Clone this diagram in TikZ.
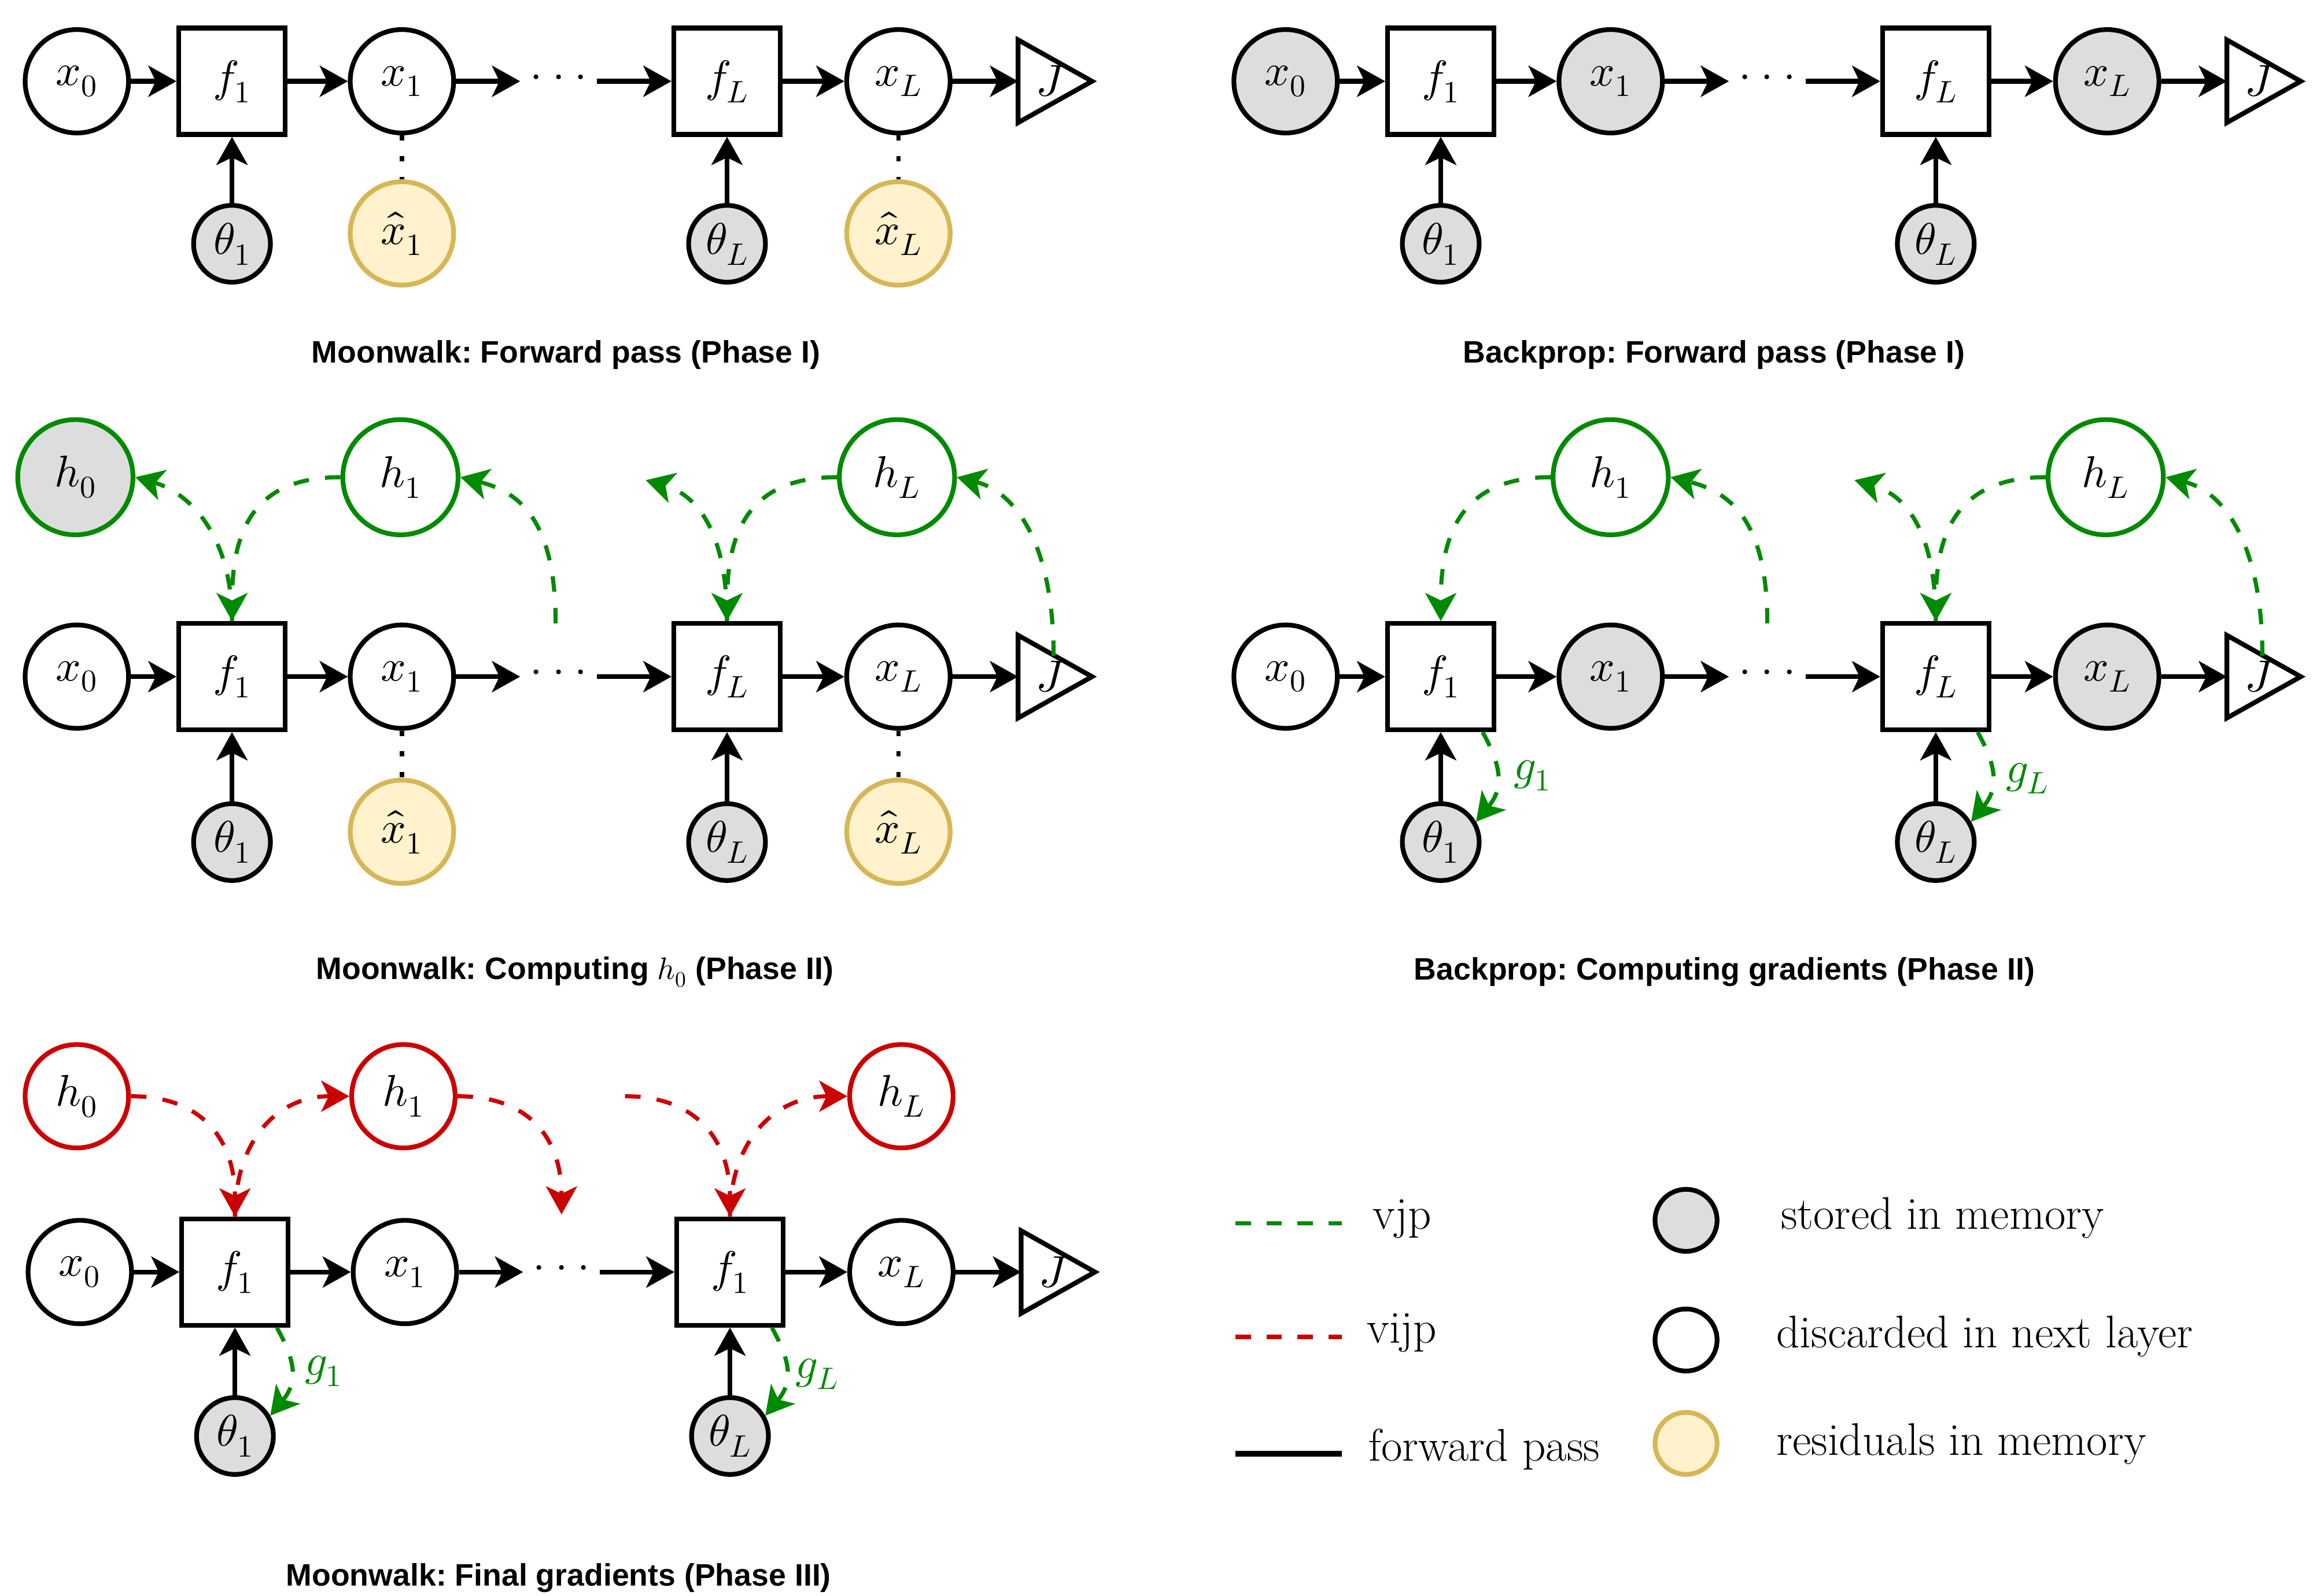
\documentclass[tikz,border=0pt]{standalone}
\usepackage{fontspec}
\usepackage{unicode-math}
\newfontfamily\capfont{Liberation Sans}
\usetikzlibrary{arrows.meta}
\definecolor{vgreen}{HTML}{008A00}
\definecolor{vred}{HTML}{CC0000}
\definecolor{memgray}{HTML}{DDDDDD}
\definecolor{resfill}{HTML}{FFF2CC}
\definecolor{resdraw}{HTML}{D6B656}
\frenchspacing
\newcommand\mfont{\fontsize{30}{35}\selectfont}
\newcommand\lfont{\fontsize{31}{36}\selectfont}
\newcommand\cfont{\capfont\bfseries\fontsize{21}{25}\selectfont}
\newcommand\mydots{$\cdotp\cdotp\cdotp$}
\tikzset{
  cn/.style={circle, draw, line width=3.2pt, minimum size=70pt, inner sep=0pt, font=\mfont, fill=white},
  memfill/.style={fill=memgray},
  resnode/.style={draw=resdraw, fill=resfill},
  thnode/.style={cn, minimum size=52pt, fill=memgray},
  hgnode/.style={cn, draw=vgreen, minimum size=78pt},
  hrnode/.style={cn, draw=vred},
  bx/.style={rectangle, draw, line width=3.2pt, minimum size=72pt, inner sep=0pt, font=\mfont, fill=white},
  jtri/.style={draw, line width=3.2pt, fill=white, line join=miter},
  arrtip/.style={-{Stealth[length=19pt,width=21pt,inset=5pt]}},
  fw/.style={line width=3.2pt, arrtip},
  vjp/.style={draw=vgreen, line width=2.8pt, dash pattern=on 10.5pt off 11pt, arrtip},
  vijp/.style={draw=vred, line width=2.8pt, dash pattern=on 10.5pt off 11pt, arrtip},
  dotl/.style={line width=3pt, dash pattern=on 3.5pt off 10.5pt},
  captxt/.style={font=\cfont, inner sep=0pt},
  legtxt/.style={font=\lfont, inner sep=0pt},
  mtxt/.style={font=\mfont, inner sep=0pt},
  glab/.style={font=\mfont, text=vgreen, inner sep=0pt},
}
\newcommand\jshape[1]{%
  \coordinate (#1-Jb) at (689,55);
  \draw[jtri] (#1-Jb) ++(0,-28) -- ++(50,28) -- ++(-50,28) -- cycle;
  \node[mtxt] (#1-J) at (711,55) {$J$};
  \coordinate (#1-Jt) at (713,41);
}
\begin{document}
\begin{tikzpicture}[x=1pt,y=-1pt]
\useasboundingbox (0,0) rectangle (1568,1080);

% ---------- Panel A: Moonwalk forward ----------
\begin{scope}
\node[cn] (A-x0) at (52,55) {$x_0$};
\node[bx] (A-f1) at (157,55) {$f_1$};
\node[cn] (A-x1) at (272,55) {$x_1$};
\node[mtxt] (A-dots) at (378,55) {\mydots};
\coordinate (A-d1) at (352,55);
\coordinate (A-d2) at (404,55);
\node[bx] (A-fL) at (492,55) {$f_L$};
\node[cn] (A-xL) at (608,55) {$x_L$};
\jshape{A}
\node[thnode] (A-t1) at (157,165) {$\theta_1$};
\node[thnode] (A-tL) at (492,165) {$\theta_L$};
\node[cn,resnode] (A-r1) at (272,158) {$\hat{x}_1$};
\node[cn,resnode] (A-rL) at (608,158) {$\hat{x}_L$};
\draw[fw] (A-x0) -- (A-f1);
\draw[fw] (A-f1) -- (A-x1);
\draw[fw] (A-x1) -- (A-d1);
\draw[fw] (A-d2) -- (A-fL);
\draw[fw] (A-fL) -- (A-xL);
\draw[fw] (A-xL) -- (A-Jb);
\draw[fw] (A-t1) -- (A-f1);
\draw[fw] (A-tL) -- (A-fL);
\draw[dotl] (A-x1) -- (A-r1);
\draw[dotl] (A-xL) -- (A-rL);
\node[captxt] (A-cap) at (383,240) {Moonwalk: Forward pass (Phase I)};
\end{scope}

% ---------- Panel B: Backprop forward ----------
\begin{scope}[shift={(818,0)}]
\node[cn,memfill] (B-x0) at (52,55) {$x_0$};
\node[bx] (B-f1) at (157,55) {$f_1$};
\node[cn,memfill] (B-x1) at (272,55) {$x_1$};
\node[mtxt] (B-dots) at (378,55) {\mydots};
\coordinate (B-d1) at (352,55);
\coordinate (B-d2) at (404,55);
\node[bx] (B-fL) at (492,55) {$f_L$};
\node[cn,memfill] (B-xL) at (608,55) {$x_L$};
\jshape{B}
\node[thnode] (B-t1) at (157,165) {$\theta_1$};
\node[thnode] (B-tL) at (492,165) {$\theta_L$};
\draw[fw] (B-x0) -- (B-f1);
\draw[fw] (B-f1) -- (B-x1);
\draw[fw] (B-x1) -- (B-d1);
\draw[fw] (B-d2) -- (B-fL);
\draw[fw] (B-fL) -- (B-xL);
\draw[fw] (B-xL) -- (B-Jb);
\draw[fw] (B-t1) -- (B-f1);
\draw[fw] (B-tL) -- (B-fL);
\node[captxt] (B-cap) at (342,240) {Backprop: Forward pass (Phase I)};
\end{scope}

% ---------- Panel C: Moonwalk computing h0 ----------
\begin{scope}[shift={(0,403)}]
\node[cn] (C-x0) at (52,55) {$x_0$};
\node[bx] (C-f1) at (157,55) {$f_1$};
\node[cn] (C-x1) at (272,55) {$x_1$};
\node[mtxt] (C-dots) at (378,55) {\mydots};
\coordinate (C-d1) at (352,55);
\coordinate (C-d2) at (404,55);
\node[bx] (C-fL) at (492,55) {$f_L$};
\node[cn] (C-xL) at (608,55) {$x_L$};
\jshape{C}
\node[thnode] (C-t1) at (157,167) {$\theta_1$};
\node[thnode] (C-tL) at (492,167) {$\theta_L$};
\node[cn,resnode] (C-r1) at (272,160) {$\hat{x}_1$};
\node[cn,resnode] (C-rL) at (608,160) {$\hat{x}_L$};
\node[hgnode,memfill] (C-h0) at (51,-80) {$h_0$};
\node[hgnode] (C-h1) at (271,-80) {$h_1$};
\node[hgnode] (C-hL) at (607,-80) {$h_L$};
\coordinate (C-c1) at (376,19);
\coordinate (C-c2) at (437,-78);
\draw[fw] (C-x0) -- (C-f1);
\draw[fw] (C-f1) -- (C-x1);
\draw[fw] (C-x1) -- (C-d1);
\draw[fw] (C-d2) -- (C-fL);
\draw[fw] (C-fL) -- (C-xL);
\draw[fw] (C-xL) -- (C-Jb);
\draw[fw] (C-t1) -- (C-f1);
\draw[fw] (C-tL) -- (C-fL);
\draw[dotl] (C-x1) -- (C-r1);
\draw[dotl] (C-xL) -- (C-rL);
\draw[vjp] (C-h1.west) .. controls +(-60,0) and +(0,-60) .. (C-f1.north);
\draw[vjp] (C-f1.north) .. controls +(0,-60) and +(35,10) .. (C-h0.east);
\draw[vjp] (C-c1) .. controls +(0,-70) and +(40,10) .. (C-h1.east);
\draw[vjp] (C-hL.west) .. controls +(-60,0) and +(0,-60) .. (C-fL.north);
\draw[vjp] (C-fL.north) .. controls +(0,-60) and +(35,10) .. (C-c2);
\draw[vjp] (C-Jt) .. controls +(0,-75) and +(40,10) .. (C-hL.east);
\node[captxt] (C-cap) at (389,255) {Moonwalk: Computing $h_0$ (Phase II)};
\end{scope}

% ---------- Panel D: Backprop gradients ----------
\begin{scope}[shift={(818,403)}]
\node[cn] (D-x0) at (52,55) {$x_0$};
\node[bx] (D-f1) at (157,55) {$f_1$};
\node[cn,memfill] (D-x1) at (272,55) {$x_1$};
\node[mtxt] (D-dots) at (378,55) {\mydots};
\coordinate (D-d1) at (352,55);
\coordinate (D-d2) at (404,55);
\node[bx] (D-fL) at (492,55) {$f_L$};
\node[cn,memfill] (D-xL) at (608,55) {$x_L$};
\jshape{D}
\node[thnode] (D-t1) at (157,167) {$\theta_1$};
\node[thnode] (D-tL) at (492,167) {$\theta_L$};
\node[hgnode] (D-h1) at (272,-80) {$h_1$};
\node[hgnode] (D-hL) at (607,-80) {$h_L$};
\coordinate (D-c1) at (378,19);
\coordinate (D-c2) at (437,-78);
\draw[fw] (D-x0) -- (D-f1);
\draw[fw] (D-f1) -- (D-x1);
\draw[fw] (D-x1) -- (D-d1);
\draw[fw] (D-d2) -- (D-fL);
\draw[fw] (D-fL) -- (D-xL);
\draw[fw] (D-xL) -- (D-Jb);
\draw[fw] (D-t1) -- (D-f1);
\draw[fw] (D-tL) -- (D-fL);
\draw[vjp] (D-h1.west) .. controls +(-60,0) and +(0,-60) .. (D-f1.north);
\draw[vjp] (D-c1) .. controls +(0,-70) and +(40,10) .. (D-h1.east);
\draw[vjp] (D-hL.west) .. controls +(-60,0) and +(0,-60) .. (D-fL.north);
\draw[vjp] (D-fL.north) .. controls +(0,-60) and +(35,10) .. (D-c2);
\draw[vjp] (D-Jt) .. controls +(0,-75) and +(40,10) .. (D-hL.east);
\draw[vjp] (D-f1.-53) .. controls +(14,25) and +(18,-22) .. (D-t1.30);
\draw[vjp] (D-fL.-53) .. controls +(14,25) and +(18,-22) .. (D-tL.30);
\node[glab] (D-g1) at (219,122) {$g_1$};
\node[glab] (D-gL) at (554,124) {$g_L$};
\node[captxt] (D-cap) at (349,255) {Backprop: Computing gradients (Phase II)};
\end{scope}

% ---------- Panel E: Moonwalk final gradients ----------
\begin{scope}[shift={(2,806)}]
\node[cn] (E-x0) at (52,55) {$x_0$};
\node[bx] (E-f1) at (157,55) {$f_1$};
\node[cn] (E-x1) at (272,55) {$x_1$};
\node[mtxt] (E-dots) at (378,55) {\mydots};
\coordinate (E-d1) at (352,55);
\coordinate (E-d2) at (404,55);
\node[bx] (E-fL) at (492,55) {$f_1$};
\node[cn] (E-xL) at (608,55) {$x_L$};
\jshape{E}
\node[thnode] (E-t1) at (157,166) {$\theta_1$};
\node[thnode] (E-tL) at (492,166) {$\theta_L$};
\node[hrnode] (E-h0) at (50,-64) {$h_0$};
\node[hrnode] (E-h1) at (271,-64) {$h_1$};
\node[hrnode] (E-hL) at (608,-64) {$h_L$};
\coordinate (E-c1) at (378,16);
\coordinate (E-c2) at (421,-64);
\draw[fw] (E-x0) -- (E-f1);
\draw[fw] (E-f1) -- (E-x1);
\draw[fw] (E-x1) -- (E-d1);
\draw[fw] (E-d2) -- (E-fL);
\draw[fw] (E-fL) -- (E-xL);
\draw[fw] (E-xL) -- (E-Jb);
\draw[fw] (E-t1) -- (E-f1);
\draw[fw] (E-tL) -- (E-fL);
\draw[vijp] (E-h0.east) .. controls +(50,0) and +(0,-50) .. (E-f1.north);
\draw[vijp] (E-f1.north) .. controls +(0,-50) and +(-50,0) .. (E-h1.west);
\draw[vijp] (E-h1.east) .. controls +(50,0) and +(0,-50) .. (E-c1);
\draw[vijp] (E-c2) .. controls +(50,0) and +(0,-50) .. (E-fL.north);
\draw[vijp] (E-fL.north) .. controls +(0,-50) and +(-50,0) .. (E-hL.west);
\draw[vjp] (E-f1.-53) .. controls +(14,25) and +(18,-22) .. (E-t1.30);
\draw[vjp] (E-fL.-53) .. controls +(14,25) and +(18,-22) .. (E-tL.30);
\node[glab] (E-g1) at (217,122) {$g_1$};
\node[glab] (E-gL) at (551,124) {$g_L$};
\node[captxt] (E-cap) at (376,262) {Moonwalk: Final gradients (Phase III)};
\end{scope}

% ---------- Legend ----------
\coordinate (L-a1) at (836,828);
\coordinate (L-a2) at (908,828);
\coordinate (L-b1) at (836,905);
\coordinate (L-b2) at (908,905);
\coordinate (L-k1) at (836,984);
\coordinate (L-k2) at (908,984);
\draw[draw=vgreen, line width=3pt, dash pattern=on 10.5pt off 10.5pt] (L-a1) -- (L-a2);
\draw[draw=vred, line width=3pt, dash pattern=on 10.5pt off 10.5pt] (L-b1) -- (L-b2);
\draw[line width=3.6pt] (L-k1) -- (L-k2);
\node[legtxt, anchor=base west] (L-t1) at (929,832) {vjp};
\node[legtxt, anchor=base west] (L-t2) at (925,909) {vijp};
\node[legtxt, anchor=base west] (L-t3) at (926,989) {forward pass};
\node[cn, memfill, minimum size=42pt] (L-c1) at (1141,826) {};
\node[cn, minimum size=42pt] (L-c2) at (1141,907) {};
\node[cn, resnode, minimum size=42pt] (L-c3) at (1141,977) {};
\node[legtxt, anchor=base west] (L-t4) at (1205,832) {stored in memory};
\node[legtxt, anchor=base west] (L-t5) at (1202,912) {discarded in next layer};
\node[legtxt, anchor=base west] (L-t6) at (1202,985) {residuals in memory};
\end{tikzpicture}
\end{document}
